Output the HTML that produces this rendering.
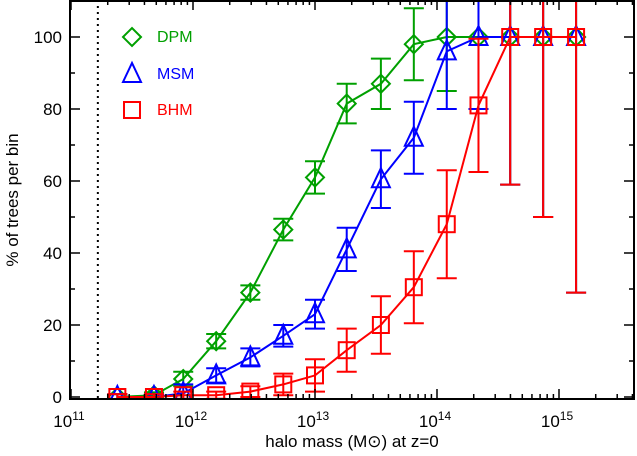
<!DOCTYPE html>
<html><head><meta charset="utf-8"><style>
body{margin:0;background:#fff;}
svg{display:block;font-family:"Liberation Sans",sans-serif;}
</style></head><body>
<svg id="c" width="637" height="456"></svg>
<script>
const logMass=[11.38,11.68,11.92,12.19,12.47,12.74,13.00,13.26,13.54,13.81,14.08,14.34,14.60,14.87,15.14];
const dpmVals=[0,0.5,5,15.5,29,46.5,61,81.5,87,98,100,100,100,100,100];
const dpmErr=[0.8,0.8,2,2,2,3,4.5,5.5,7,10,15,0,41,50,71];
const msmVals=[0,0,1,6,11,17,23,41,60.5,72,96,100,100,100,100];
const msmErr=[0.8,0.8,2.5,2,2.5,3,4,6,8,10,16,20,41,50,71];
const bhmVals=[0,0,0.5,0.5,1.5,3.5,6,13,20,30.5,48,81,100,100,100];
const bhmErr=[0.8,0.8,1,1,1.5,3,4.5,6,8,10,15,18.5,41,50,71];
const xTickLabels=["11","12","13","14","15"];
const yTickLabels=[0,20,40,60,80,100];
const NS="http://www.w3.org/2000/svg";
const svg=document.getElementById('c');
const L=70,R=634,T=0,B=399;
const X=v=>71+(v-11)*122;
const Y=v=>397-v*3.6;
function mk(tag,attrs,parent){const e=document.createElementNS(NS,tag);for(const k in attrs)e.setAttribute(k,attrs[k]);(parent||svg).appendChild(e);return e;}
const defs=mk('clipPath',{id:'clip'});mk('rect',{x:L,y:T,width:R-L,height:B-T},defs);
const plot=mk('g',{'clip-path':'url(#clip)'});


const dl=mk('line',{x1:X(11.22),x2:X(11.22),y1:T,y2:B,stroke:'#000','stroke-width':2,'stroke-dasharray':'2,4'},plot);


function series(name,color,vals,err,marker){
  const g=mk('g',{},plot);
  
  
  const pts=vals.map((v,i)=>X(logMass[i])+','+Y(v)).join(' ');
  mk('polyline',{points:pts,fill:'none',stroke:color,'stroke-width':2},g);
  vals.forEach((v,i)=>{
    const x=X(logMass[i]),e=err[i];
    const eb=mk('path',{d:`M${x},${Y(v-e)}V${Y(v+e)}M${x-10},${Y(v-e)}h20M${x-10},${Y(v+e)}h20`,stroke:color,'stroke-width':2,fill:'none'},g);
    
    
    const m=marker(x,Y(v),color,g);
    
    
  });
}
const diamond=(x,y,c,g)=>mk('path',{d:`M${x-9},${y}L${x},${y-9}L${x+9},${y}L${x},${y+9}Z`,fill:'none',stroke:c,'stroke-width':2},g);
const tri=(x,y,c,g)=>mk('path',{d:`M${x-9},${y+8}L${x},${y-11}L${x+9},${y+8}Z`,fill:'none',stroke:c,'stroke-width':2},g);
const sq=(x,y,c,g)=>mk('rect',{x:x-8,y:y-8,width:16,height:16,fill:'none',stroke:c,'stroke-width':2},g);
series('dpm','#00a000',dpmVals,dpmErr,diamond);
series('msm','#0000ff',msmVals,msmErr,tri);
series('bhm','#ff0000',bhmVals,bhmErr,sq);
const fr=mk('rect',{x:L,y:T+1,width:R-L,height:B-T-1,fill:'none',stroke:'#000','stroke-width':2});


for(let d=10;d<=15;d++){for(let k=1;k<10;k++){const v=d+Math.log10(k);const x=X(v);if(x<=L||x>=R)continue;const len=k==1?10:5;
mk('line',{x1:x,x2:x,y1:B,y2:B-len,stroke:'#000','stroke-width':1.5});mk('line',{x1:x,x2:x,y1:T,y2:T+len,stroke:'#000','stroke-width':1.5});}}
xTickLabels.forEach(s=>{const x=X(+s);const t=mk('text',{x:x-2,y:427,'font-size':17,'text-anchor':'middle'});t.textContent='10';const sp=mk('tspan',{dy:-7,'font-size':12},t);sp.textContent=s;
});
for(let v=0;v<=110;v+=10){const y=Y(v);const len=v%20==0?10:5;
mk('line',{x1:L,x2:L+len,y1:y,y2:y,stroke:'#000','stroke-width':1.5});mk('line',{x1:R-len,x2:R,y1:y,y2:y,stroke:'#000','stroke-width':1.5});}
yTickLabels.forEach(v=>{const t=mk('text',{x:62,y:Y(v)+6,'font-size':17,'text-anchor':'end'});t.textContent=v;
});
const xt=mk('text',{x:352,y:447,'font-size':17,'text-anchor':'middle'});xt.textContent='halo mass (M\u2299) at z=0';

const yt=mk('text',{x:18,y:200,'font-size':17,'text-anchor':'middle',transform:'rotate(-90 18 200)'});yt.textContent='% of trees per bin';

[['DPM','#00a000',diamond,37],['MSM','#0000ff',tri,74],['BHM','#ff0000',sq,110]].forEach(([n,c,f,y])=>{
  const g=mk('g',{});
  f(132,y,c,g);const t=mk('text',{x:157,y:y+5,'font-size':16,fill:c},g);t.textContent=n;});
</script>
</body></html>
